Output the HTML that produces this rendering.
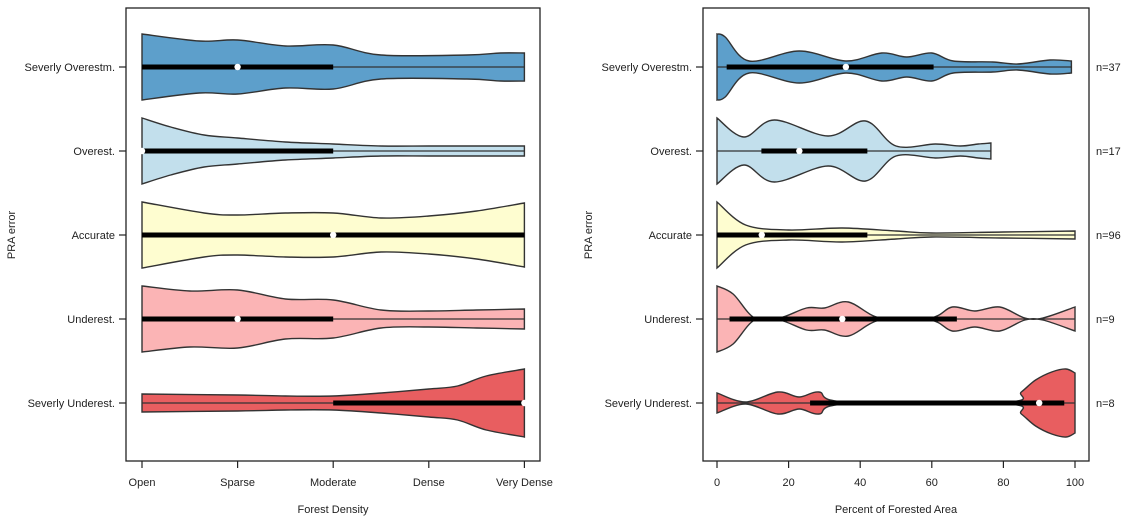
<!DOCTYPE html>
<html><head><meta charset="utf-8">
<style>
body{margin:0;background:#fff;}
svg{display:block;font-family:"Liberation Sans",sans-serif;}
text{fill:#222;font-size:11px;}
</style></head>
<body>
<svg id="chart" width="1138" height="523" viewBox="0 0 1138 523" xmlns="http://www.w3.org/2000/svg"></svg>
<script>
// ---- data ----
const categories = ["Severly Overestm.","Overest.","Accurate","Underest.","Severly Underest."];
const colors = ["#5d9fcb","#c2dfec","#fefdd0","#fbb4b5","#e85e60"];
const counts = ["n=37","n=17","n=96","n=9","n=8"];
const densityTicks = ["Open","Sparse","Moderate","Dense","Very Dense"];
const pctTicks = [0,20,40,60,80,100];
// left panel: density profiles [x, halfwidth] with x in category index 0..4
const leftProfiles = [
 [[0,33],[0.6,26],[1,27],[1.5,21],[2,22],[2.5,12],[3.4,12],[3.75,14],[4,14]],
 [[0,33],[0.3,24],[0.65,16],[1,13],[1.5,9],[2,7],[2.5,5],[3,5],[3.5,5],[4,5]],
 [[0,33],[0.65,22],[1,20],[1.5,22],[2,22],[2.5,17],[3,19],[3.5,24],[4,32]],
 [[0,33],[0.5,28],[1,29],[1.5,20],[2,19],[2.5,9],[3,8],[3.5,9],[4,10]],
 [[0,9],[1,8],[1.5,7],[2,7],[2.5,10],[3,14],[3.3,17],[3.6,27],[4,34]]
];
const leftBoxes = [[0,2,1],[0,2,0],[0,4,2],[0,2,1],[2,4,4]]; // q1,q3,median
const leftRange = [[0,4],[0,4],[0,4],[0,4],[0,4]];
// right panel: percent forested
const rightProfiles = [
 [[0,33],[2.3,30],[9,6],[23,16],[36,6],[46,14],[53,10],[60,14],[66,6],[77,5],[84,3],[93,7],[99,6]],
 [[0,33],[7.5,14],[16,31],[31,15],[41.5,30],[50,5],[61,7],[68,5],[73,7],[76.5,8]],
 [[0,33],[8,10],[20,5],[35,7],[50,4],[60,2],[80,3],[100,4]],
 [[0,33],[4.5,25],[10.5,1],[17.5,1],[25,11],[30,11],[36.7,17],[45.6,1],[59.6,1],[65.7,12],[72,8],[79,12],[86,1],[91,1],[100,12]],
 [[0,10],[8,1],[17,11],[23,6],[28.5,11],[36,1],[81,1],[85,11],[89,23],[93.5,31],[97.5,34],[100,30]]
];
const rightBoxes = [[2.7,60.5,36],[12.4,42,23],[0,42,12.5],[3.5,67,35],[26,97,90]];
const rightRange = [[0,99],[0,76.5],[0,100],[0,100],[0,100]];

// ---- layout ----
const NS="http://www.w3.org/2000/svg";
const svg=document.getElementById('chart');
function el(t,a,p){const e=document.createElementNS(NS,t);for(const k in a)e.setAttribute(k,a[k]);(p||svg).appendChild(e);return e;}
const rowY = i => 67 + i*84;
const xL = v => 142 + v*95.6;
const xR = v => 717 + v*3.58;

function smooth(pts){
  let d="";
  for(let i=0;i<pts.length-1;i++){
    const p0=pts[Math.max(0,i-1)],p1=pts[i],p2=pts[i+1],p3=pts[Math.min(pts.length-1,i+2)];
    const c1=[p1[0]+(p2[0]-p0[0])/6,p1[1]+(p2[1]-p0[1])/6];
    const c2=[p2[0]-(p3[0]-p1[0])/6,p2[1]-(p3[1]-p1[1])/6];
    d+=` C${c1[0].toFixed(1)},${c1[1].toFixed(1)} ${c2[0].toFixed(1)},${c2[1].toFixed(1)} ${p2[0].toFixed(1)},${p2[1].toFixed(1)}`;
  }
  return d;
}
function panel(x0,x1,xs,profiles,boxes,ranges,pname){
  const g=el('g',{});
  
  
  profiles.forEach((prof,i)=>{
    const cy=rowY(i);
    const top=prof.map(p=>[xs(p[0]),cy-p[1]]);
    const bot=prof.map(p=>[xs(p[0]),cy+p[1]]).reverse();
    const d=`M${top[0][0]},${top[0][1]}`+smooth(top)+` L${bot[0][0]},${bot[0][1]}`+smooth(bot)+'Z';
    const v=el('path',{d:d,fill:colors[i],stroke:'#333','stroke-width':1.4},g);
    
    
    const w=el('line',{x1:xs(ranges[i][0]),x2:xs(ranges[i][1]),y1:cy,y2:cy,stroke:'#333','stroke-width':1.3},g);
    
    
    const b=el('line',{x1:xs(boxes[i][0]),x2:xs(boxes[i][1]),y1:cy,y2:cy,stroke:'#000','stroke-width':5},g);
    
    
    const m=el('circle',{cx:xs(boxes[i][2]),cy:cy,r:3.2,fill:'#fff'},g);
    
    
    el('line',{x1:x0-7,x2:x0,y1:cy,y2:cy,stroke:'#222','stroke-width':1.2},g);
    const t=el('text',{x:x0-11,y:cy+4,'text-anchor':'end'},g);t.textContent=categories[i];
    
    
  });
  const fr=el('rect',{x:x0,y:8,width:x1-x0,height:453,fill:'none',stroke:'#222','stroke-width':1.3},g);
  
  
  const yt=el('text',{x:0,y:0,transform:`translate(${x0-111},235) rotate(-90)`,'text-anchor':'middle'},g);
  yt.textContent='PRA error';
  
  
}
panel(126,540,xL,leftProfiles,leftBoxes,leftRange,'density');
panel(703,1089,xR,rightProfiles,rightBoxes,rightRange,'percent');
densityTicks.forEach((t,i)=>{
  el('line',{x1:xL(i),x2:xL(i),y1:461,y2:468,stroke:'#222','stroke-width':1.2});
  const tx=el('text',{x:xL(i),y:486,'text-anchor':'middle'});tx.textContent=t;
  
  
});
pctTicks.forEach(v=>{
  el('line',{x1:xR(v),x2:xR(v),y1:461,y2:468,stroke:'#222','stroke-width':1.2});
  const tx=el('text',{x:xR(v),y:486,'text-anchor':'middle'});tx.textContent=v;
  
  
});
counts.forEach((c,i)=>{
  const tx=el('text',{x:1096,y:rowY(i)+4});tx.textContent=c;
  
  
});
const a1=el('text',{x:333,y:513,'text-anchor':'middle'});a1.textContent='Forest Density';


const a2=el('text',{x:896,y:513,'text-anchor':'middle'});a2.textContent='Percent of Forested Area';


</script>
</body></html>
